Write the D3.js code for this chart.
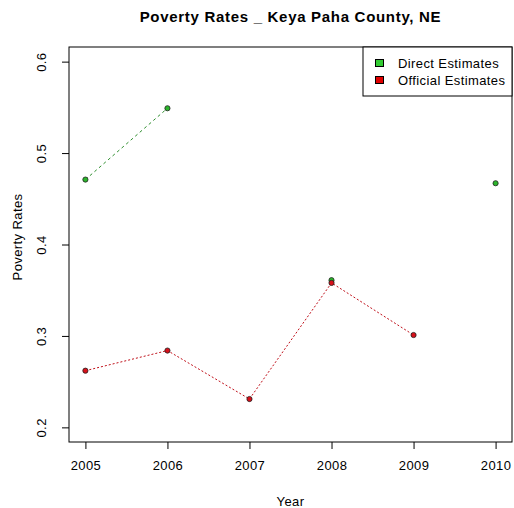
<!DOCTYPE html>
<html>
<head>
<meta charset="utf-8">
<script src="https://cdn.jsdelivr.net/npm/d3@7"></script>
<style>
  body { margin: 0; background: #fff; }
  svg { display: block; font-family: "Liberation Sans", Arial, sans-serif; }
</style>
</head>
<body>
<div id="chart"></div>
<script>
// data
var years = [2005, 2006, 2007, 2008, 2009, 2010];
var directEstimates = [0.471, 0.549, null, 0.361, null, 0.467];
var officialEstimates = [0.262, 0.284, 0.231, 0.358, 0.301, null];
var yTicks = [0.2, 0.3, 0.4, 0.5, 0.6];
var legendLabels = ['Direct Estimates', 'Official Estimates'];

var width = 514, height = 508;
var box = { left: 69, right: 512, top: 47, bottom: 442 };

var svg = d3.select('#chart').append('svg')
    .attr('width', width)
    .attr('height', height);

// R style 4% padding around the range
var x = d3.scaleLinear().domain([2004.8, 2010.2]).range([box.left, box.right]);
var y = d3.scaleLinear().domain([0.184, 0.616]).range([box.bottom, box.top]);

// title
svg.append('text')
    .attr('x', (box.left + box.right) / 2)
    .attr('y', 22)
    .attr('text-anchor', 'middle')
    .style('font-size', '15px')
    .style('font-weight', 'bold')
    .style('letter-spacing', '0.7px')
    .text('Poverty Rates _ Keya Paha County, NE');

// x axis
var xAxis = d3.axisBottom(x).tickValues(years).tickFormat(d3.format('d')).tickSize(7).tickPadding(12);
var gx = svg.append('g')
    .attr('transform', 'translate(0,' + box.bottom + ')')
    .call(xAxis);
gx.select('.domain').remove();
gx.selectAll('text').style('font-size', '13px').style('letter-spacing', '0.4px').attr('fill', '#000');

// y axis, labels turned like R's default
var yAxis = d3.axisLeft(y).tickValues(yTicks).tickFormat(d3.format('.1f')).tickSize(7);
var gy = svg.append('g')
    .attr('transform', 'translate(' + box.left + ',0)')
    .call(yAxis);
gy.select('.domain').remove();
gy.selectAll('text')
    .style('font-size', '13px')
    .style('letter-spacing', '0.4px')
    .attr('fill', '#000')
    .attr('text-anchor', 'middle')
    .attr('x', 0).attr('dy', 0)
    .attr('transform', 'translate(-23,0) rotate(-90)');

// plot box
svg.append('rect')
    .attr('x', box.left).attr('y', box.top)
    .attr('width', box.right - box.left)
    .attr('height', box.bottom - box.top)
    .attr('fill', 'none')
    .attr('stroke', '#000');

// axis titles
svg.append('text')
    .attr('x', (box.left + box.right) / 2)
    .attr('y', 506)
    .attr('text-anchor', 'middle')
    .style('font-size', '13px')
    .style('letter-spacing', '0.4px')
    .text('Year');
svg.append('text')
    .attr('transform', 'translate(22,237) rotate(-90)')
    .attr('text-anchor', 'middle')
    .style('font-size', '13px')
    .style('letter-spacing', '0.4px')
    .text('Poverty Rates');

function drawSeries(values, lineColor, dash, fill) {
    var pts = years.map(function(yr, i) { return { year: yr, v: values[i] }; });
    var line = d3.line()
        .defined(function(d) { return d.v !== null; })
        .x(function(d) { return x(d.year); })
        .y(function(d) { return y(d.v); });
    svg.append('path')
        .attr('d', line(pts))
        .attr('fill', 'none')
        .attr('stroke', lineColor)
        .attr('stroke-width', 1)
        .attr('stroke-dasharray', dash);
    svg.append('g').selectAll('circle')
        .data(pts.filter(function(d) { return d.v !== null; }))
        .enter().append('circle')
        .attr('cx', function(d) { return x(d.year); })
        .attr('cy', function(d) { return y(d.v); })
        .attr('r', 2.6)
        .attr('fill', fill)
        .attr('stroke', '#222')
        .attr('stroke-width', 0.8);
}

drawSeries(directEstimates, '#2f8f2f', '3,3', '#2bb52b');
drawSeries(officialEstimates, '#c0101a', '2,2', '#d8101a');

// legend
var legend = svg.append('g');
legend.append('rect')
    .attr('x', 363).attr('y', box.top)
    .attr('width', box.right - 363).attr('height', 49)
    .attr('fill', '#fff').attr('stroke', '#000');
var legendFill = ['#33cc33', '#e00000'];
legendLabels.forEach(function(lab, i) {
    legend.append('rect')
        .attr('x', 375.5).attr('y', 59.5 + i * 17)
        .attr('width', 8).attr('height', 7)
        .attr('fill', legendFill[i]).attr('stroke', '#000');
    legend.append('text')
        .attr('x', 398).attr('y', 68 + i * 17)
        .style('font-size', '13px')
        .style('letter-spacing', '0.4px')
        .text(lab);
});
</script>
</body>
</html>
